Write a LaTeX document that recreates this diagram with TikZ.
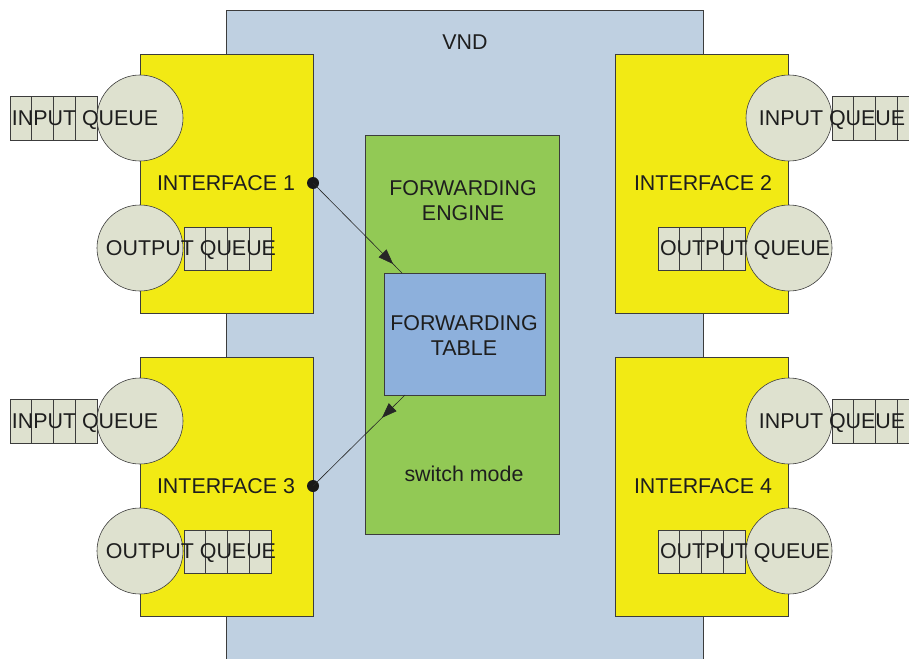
\documentclass[tikz,border=0pt]{standalone}
\usepackage{fontspec}
\setmainfont{Liberation Sans}
\usetikzlibrary{arrows.meta,decorations.markings}
\definecolor{vndblue}{RGB}{191,208,225}
\definecolor{ifyellow}{RGB}{242,234,20}
\definecolor{fegreen}{RGB}{146,201,85}
\definecolor{ftblue}{RGB}{141,176,220}
\definecolor{qgray}{RGB}{222,225,207}
\definecolor{edge}{RGB}{60,60,60}
\definecolor{txt}{RGB}{30,30,30}
\tikzset{
  box/.style={draw=edge, line width=0.8pt, inner sep=0pt, outer sep=0pt, rectangle},
  ifbox/.style={box, fill=ifyellow, minimum width=173pt, minimum height=259pt},
  qcell/.style={box, fill=qgray, line width=0.6pt, minimum width=21.75pt, minimum height=43.5pt},
  qcirc/.style={draw=edge, line width=0.6pt, fill=qgray, circle, inner sep=0pt, minimum size=86pt},
  lbl/.style={text=txt, font=\fontsize{21.4}{25}\selectfont, inner sep=0pt, align=center},
  dotn/.style={circle, fill=black!90, inner sep=0pt, minimum size=12pt},
  flow/.style={draw=black!85, line width=0.6pt, postaction=decorate},
}
\begin{document}
\begin{tikzpicture}[x=1pt,y=-1pt]
\useasboundingbox (0,0) rectangle (909,658);
\clip (0,0) rectangle (909,658);
% VND
\node[box, fill=vndblue, minimum width=477pt, minimum height=680pt, anchor=north west] (vnd) at (226,10) {};
\node[lbl] (vndl) at (465,42) {VND};
% forwarding engine
\node[box, fill=fegreen, minimum width=194pt, minimum height=399pt, anchor=north west] (fe) at (365,135) {};
\node[lbl] (fel) at (463,201) {FORWARDING\\ENGINE};
\node[box, fill=ftblue, minimum width=161pt, minimum height=122pt, anchor=north west] (ft) at (384,273) {};
\node[lbl] (ftl) at (464,336) {FORWARDING\\TABLE};
\node[lbl] (sw) at (464,474) {switch mode};
% left interfaces
\foreach \n/\dy in {1/0,3/303}{
  \node[ifbox] (if\n) at (227,183.5+\dy) {};
  \foreach \k in {0,1,2,3}{
    \node[qcell] (iq\n\k) at (20.9+21.75*\k,118.5+\dy) {};
    \node[qcell] (oq\n\k) at (194.9+21.75*\k,249+\dy) {};
  }
  \node[qcirc] (ic\n) at (140,118+\dy) {};
  \node[qcirc] (oc\n) at (140,248+\dy) {};
  \node[lbl] (icl\n) at (85,120+\dy) {INPUT QUEUE};
  \node[lbl] (ocl\n) at (191,250+\dy) {OUTPUT QUEUE};
  \node[lbl] (ifl\n) at (226,183+\dy) {INTERFACE \n};
  \node[dotn] (dot\n) at (313,183+\dy) {};
}
% right interfaces
\foreach \n/\dy in {2/0,4/303}{
  \node[ifbox] (if\n) at (702,183.5+\dy) {};
  \foreach \k in {0,1,2,3}{
    \node[qcell] (iq\n\k) at (842.9+21.75*\k,118.5+\dy) {};
    \node[qcell] (oq\n\k) at (668.9+21.75*\k,249+\dy) {};
  }
  \node[qcirc] (ic\n) at (789,118+\dy) {};
  \node[qcirc] (oc\n) at (789,248+\dy) {};
  \node[lbl] (icl\n) at (832,120+\dy) {INPUT QUEUE};
  \node[lbl] (ocl\n) at (745,250+\dy) {OUTPUT QUEUE};
  \node[lbl] (ifl\n) at (703,183+\dy) {INTERFACE \n};
}
% connectors
\coordinate (ftin) at (402,273);
\coordinate (ftout) at (405,395);
\draw[flow, decoration={markings, mark=at position 0.9 with {\arrow{Triangle[length=15pt,width=11pt]}}}] (dot1.center) -- (ftin);
\draw[flow, decoration={markings, mark=at position 0.25 with {\arrow{Triangle[length=15pt,width=11pt]}}}] (ftout) -- (dot3.center);
\end{tikzpicture}
\end{document}
